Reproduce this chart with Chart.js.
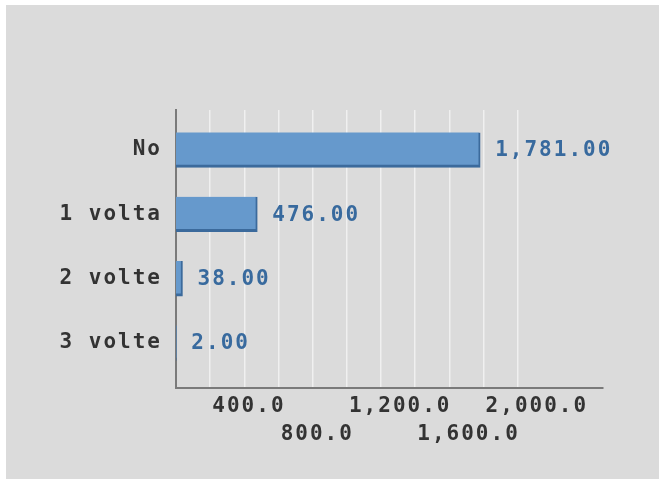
<!DOCTYPE html>
<html>
<head>
<meta charset="utf-8">
<script src="https://cdn.jsdelivr.net/npm/chart.js@4"></script>
<style>
  html, body { margin: 0; padding: 0; background: #ffffff; }
  #wrap { position: absolute; left: 6px; top: 5px; width: 653px; height: 474px; }
  canvas { background: #dbdbdb; display: block; }
</style>
</head>
<body>
<div id="wrap"><canvas id="chart" width="653" height="474"></canvas></div>
<script>
/* Horizontal bar chart: numero di volte */

const CATEGORIES = ["No", "1 volta", "2 volte", "3 volte"];
const VALUES = [1781, 476, 38, 2];
const X_TICKS = [200, 400, 600, 800, 1000, 1200, 1400, 1600, 1800, 2000];
const X_LABEL_STEP = 400;

const FONT_FAMILY = "'DejaVu Sans Mono', 'Liberation Mono', monospace";

const fmt = {
  value: n => Number(n).toLocaleString("en-US", { minimumFractionDigits: 2, maximumFractionDigits: 2 }),
  tick: n => Number(n).toLocaleString("en-US", { minimumFractionDigits: 1, maximumFractionDigits: 1 }),
};

// wide pixel-ish lettering
const spacingPlugin = {
  id: "spacing",
  beforeDraw: chart => { chart.ctx.letterSpacing = "2px"; }
};

// value labels at the end of each bar
const valueLabels = {
  id: "valueLabels",
  afterDatasetsDraw(chart) {
    const ctx = chart.ctx;
    const meta = chart.getDatasetMeta(0);
    ctx.save();
    ctx.letterSpacing = "2px";
    ctx.font = "bold 21px " + FONT_FAMILY;
    ctx.fillStyle = "#386a9e";
    ctx.textAlign = "left";
    ctx.textBaseline = "middle";
    meta.data.forEach((bar, i) => {
      ctx.fillText(fmt.value(VALUES[i]), bar.x + 15, bar.y + 1);
    });
    ctx.restore();
  }
};

new Chart(document.getElementById("chart"), {
  type: "bar",
  data: {
    datasets: [{
      data: VALUES.map((v, i) => ({ x: v, y: i })),
      backgroundColor: "#6699cc",
      borderColor: "#3b6a9c",
      borderWidth: { top: 0, left: 0, right: 2, bottom: 3 },
      borderSkipped: "start",
      barThickness: 35
    }]
  },
  options: {
    indexAxis: "y",
    responsive: false,
    animation: false,
    layout: { padding: { top: 105, right: 56, left: 0, bottom: 0 } },
    plugins: {
      legend: { display: false },
      tooltip: { enabled: false }
    },
    scales: {
      x: {
        type: "linear",
        min: 0, max: 2500,
        afterBuildTicks: s => { s.ticks = X_TICKS.map(v => ({ value: v })); },
        afterFit: s => { s.height = 91; },
        grid: { color: "#f0f0f0", lineWidth: 1.5, drawTicks: false },
        border: { display: true, color: "#7a7a7a", width: 2 },
        ticks: {
          autoSkip: false, maxRotation: 0, minRotation: 0,
          align: "start", labelOffset: -32, padding: 5,
          color: "#333333",
          font: { family: FONT_FAMILY, size: 21, weight: "bold", lineHeight: 28 / 21 },
          callback: v => {
            if (v % X_LABEL_STEP !== 0) return "";
            return (v / X_LABEL_STEP) % 2 === 1 ? fmt.tick(v) : ["", fmt.tick(v)];
          }
        }
      },
      y: {
        type: "linear",
        reverse: true,
        offset: false,
        min: -0.62, max: 3.70,
        afterBuildTicks: s => { s.ticks = CATEGORIES.map((c, i) => ({ value: i })); },
        afterFit: s => { s.width = 170; },
        grid: { drawOnChartArea: false, drawTicks: false, offset: false },
        border: { display: true, color: "#7a7a7a", width: 2 },
        ticks: {
          autoSkip: false, padding: 14,
          color: "#333333",
          font: { family: FONT_FAMILY, size: 21, weight: "bold" },
          callback: v => CATEGORIES[v] ?? ""
        }
      }
    }
  },
  plugins: [spacingPlugin, valueLabels]
});
</script>
</body>
</html>
